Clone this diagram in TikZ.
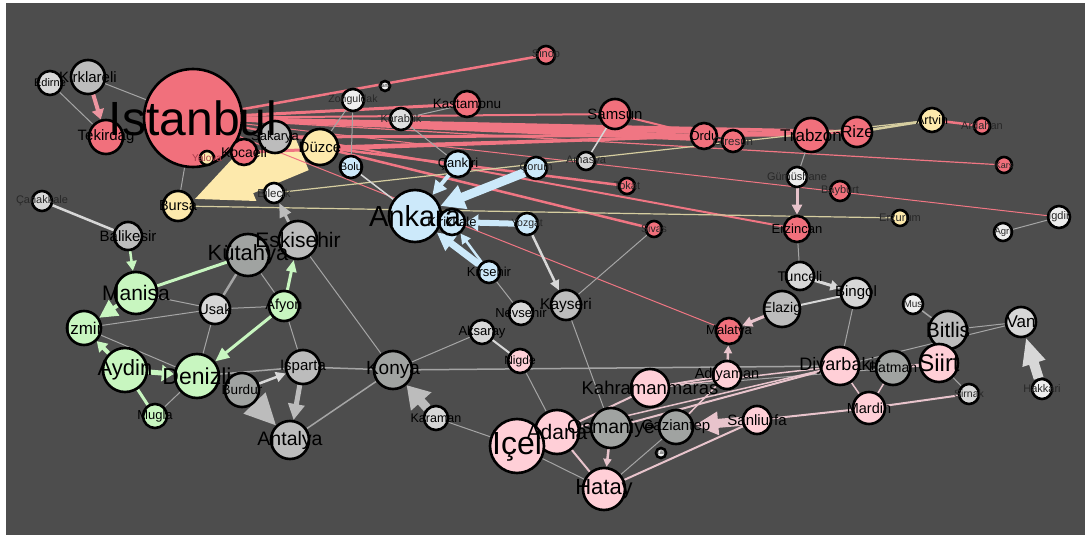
\documentclass[tikz,border=0pt]{standalone}
\usepackage{fontspec}
\setmainfont{Liberation Sans}
\usepackage{tikz}
\usetikzlibrary{arrows.meta,shapes}

\definecolor{backdrop}{RGB}{77,77,77}
\definecolor{cityred}{RGB}{241,112,124}
\definecolor{citypink}{RGB}{255,207,215}
\definecolor{cityblue}{RGB}{204,233,250}
\definecolor{citygreen}{RGB}{200,246,192}
\definecolor{cityyellow}{RGB}{253,233,172}
\definecolor{citygray}{RGB}{188,188,188}
\definecolor{citydark}{RGB}{160,163,161}
\definecolor{citylight}{RGB}{215,215,215}
\definecolor{citywhite}{RGB}{238,238,238}
\definecolor{linkred}{RGB}{240,118,131}
\definecolor{linkpink}{RGB}{232,196,204}
\definecolor{linktan}{RGB}{214,206,160}
\definecolor{linkgray}{RGB}{165,165,165}
\definecolor{linkwhite}{RGB}{215,215,215}
\definecolor{tagdim}{RGB}{40,40,40}
\definecolor{tagred}{RGB}{170,60,75}

\pgfdeclarelayer{backdrop layer}
\pgfdeclarelayer{link layer}
\pgfsetlayers{backdrop layer,link layer,main}

\tikzset{
        city/.style={circle,draw=black,line width=2.6pt,inner sep=0pt,minimum size=#1},
        red city/.style={city=#1,fill=cityred},
        pink city/.style={city=#1,fill=citypink},
        blue city/.style={city=#1,fill=cityblue},
        green city/.style={city=#1,fill=citygreen},
        yellow city/.style={city=#1,fill=cityyellow},
        gray city/.style={city=#1,fill=citygray},
        dark city/.style={city=#1,fill=citydark},
        light city/.style={city=#1,fill=citylight},
        white city/.style={city=#1,fill=citywhite},
        tag/.style={font=\fontsize{#1pt}{#1pt}\selectfont,inner sep=0pt,text=black},
        dim tag/.style={tag=#1,text=tagdim},
        redlink/.style={draw=linkred,line width=#1},
        redlink/.default=1pt,
        pinklink/.style={draw=linkpink,line width=#1},
        pinklink/.default=1pt,
        bluelink/.style={draw=cityblue,line width=#1},
        bluelink/.default=1pt,
        greenlink/.style={draw=citygreen,line width=#1},
        greenlink/.default=1pt,
        yellowlink/.style={draw=cityyellow,line width=#1},
        yellowlink/.default=1pt,
        tanlink/.style={draw=linktan,line width=#1},
        tanlink/.default=1.2pt,
        graylink/.style={draw=linkgray,line width=#1},
        graylink/.default=1pt,
        whitelink/.style={draw=linkwhite,line width=#1},
        whitelink/.default=1.5pt,
        head/.style 2 args={-{Triangle[length=#1,width=#2]}}
}

\begin{document}
\begin{tikzpicture}[x=1pt,y=-1pt]
        \begin{pgfonlayer}{backdrop layer}
                \fill[white] (0,0) rectangle (1085,535);
                \fill[backdrop] (6,3) rectangle (1085,535);
        \end{pgfonlayer}

        \node[red city=98pt] (istanbul) at (193,118) {};
        \node[light city=24pt] (edirne) at (50,83) {};
        \node[gray city=34pt] (kirklareli) at (88,77) {};
        \node[red city=34pt] (tekirdag) at (106,137) {};
        \node[yellow city=14pt] (yalova) at (207,158) {};
        \node[red city=26pt] (kocaeli) at (244,152) {};
        \node[gray city=32pt] (sakarya) at (275,137) {};
        \node[yellow city=36pt] (duzce) at (320,147) {};
        \node[blue city=22pt] (bolu) at (351,167) {};
        \node[white city=22pt] (zonguldak) at (353,100) {};
        \node[white city=10pt] (bartin) at (385,86) {};
        \node[city=22pt,fill=citywhite!94!black] (karabuk) at (401,119) {};
        \node[red city=26pt] (kastamonu) at (467,104) {};
        \node[red city=18pt] (sinop) at (546,55) {};
        \node[red city=30pt] (samsun) at (615,114) {};
        \node[light city=18pt] (amasya) at (586,161) {};
        \node[blue city=22pt] (corum) at (536,168) {};
        \node[blue city=26pt] (cankiri) at (458,164) {};
        \node[red city=16pt] (tokat) at (627,186) {};
        \node[red city=16pt] (sivas) at (654,229) {};
        \node[blue city=52pt] (ankara) at (415,216) {};
        \node[blue city=26pt] (kirikkale) at (452,222) {};
        \node[blue city=22pt] (yozgat) at (527,224) {};
        \node[blue city=22pt] (kirsehir) at (489,272) {};
        \node[red city=26pt] (ordu) at (704,136) {};
        \node[red city=22pt] (giresun) at (733,141) {};
        \node[red city=34pt] (trabzon) at (811,135) {};
        \node[red city=30pt] (rize) at (857,132) {};
        \node[yellow city=24pt] (artvin) at (932,120) {};
        \node[red city=16pt] (ardahan) at (982,126) {};
        \node[red city=16pt] (kars) at (1004,165) {};
        \node[white city=20pt] (gumushane) at (797,177) {};
        \node[red city=20pt] (bayburt) at (840,191) {};
        \node[red city=26pt] (erzincan) at (797,229) {};
        \node[yellow city=16pt] (erzurum) at (900,218) {};
        \node[white city=22pt] (igdir) at (1059,217) {};
        \node[white city=18pt] (agri) at (1003,232) {};
        \node[light city=20pt] (canakkale) at (42,201) {};
        \node[yellow city=30pt] (bursa) at (178,206) {};
        \node[white city=20pt] (bilecik) at (274,193) {};
        \node[gray city=28pt] (balikesir) at (128,236) {};
        \node[gray city=38pt] (eskisehir) at (298,240) {};
        \node[dark city=42pt] (kutahya) at (248,255) {};
        \node[green city=42pt] (manisa) at (136,293) {};
        \node[light city=30pt] (usak) at (215,309) {};
        \node[green city=30pt] (afyon) at (284,306) {};
        \node[green city=34pt] (izmir) at (84,328) {};
        \node[green city=44pt] (aydin) at (125,370) {};
        \node[green city=44pt] (denizli) at (197,376) {};
        \node[dark city=34pt] (burdur) at (242,390) {};
        \node[gray city=34pt] (isparta) at (303,367) {};
        \node[green city=24pt] (mugla) at (155,416) {};
        \node[gray city=38pt] (antalya) at (290,440) {};
        \node[dark city=38pt] (konya) at (393,370) {};
        \node[light city=24pt] (karaman) at (436,418) {};
        \node[light city=24pt] (aksaray) at (482,332) {};
        \node[light city=24pt] (nevsehir) at (521,313) {};
        \node[gray city=30pt] (kayseri) at (566,305) {};
        \node[pink city=24pt] (nigde) at (520,361) {};
        \node[pink city=44pt] (adana) at (557,432) {};
        \node[pink city=54pt] (icel) at (517,446) {};
        \node[dark city=40pt] (osmaniye) at (611,428) {};
        \node[dark city=34pt] (gaziantep) at (676,427) {};
        \node[white city=10pt] (kilis) at (661,453) {};
        \node[pink city=42pt] (hatay) at (604,489) {};
        \node[pink city=38pt] (kahramanmaras) at (650,388) {};
        \node[red city=26pt] (malatya) at (729,331) {};
        \node[pink city=28pt] (adiyaman) at (727,375) {};
        \node[gray city=36pt] (elazig) at (782,309) {};
        \node[light city=28pt] (tunceli) at (800,276) {};
        \node[light city=30pt] (bingol) at (856,293) {};
        \node[white city=20pt] (mus) at (913,304) {};
        \node[gray city=38pt] (bitlis) at (948,330) {};
        \node[light city=30pt] (van) at (1021,322) {};
        \node[pink city=38pt] (diyarbakir) at (840,366) {};
        \node[dark city=34pt] (batman) at (893,368) {};
        \node[pink city=38pt] (siirt) at (939,363) {};
        \node[light city=20pt] (sirnak) at (969,394) {};
        \node[white city=20pt] (hakkari) at (1042,389) {};
        \node[pink city=32pt] (mardin) at (869,408) {};
        \node[pink city=28pt] (sanliurfa) at (757,420) {};

        \begin{pgfonlayer}{link layer}
                \draw[yellowlink=34pt,head={58pt}{46pt}] (duzce) -- (bursa);
                \draw[graylink=3pt,draw=citygray,head={31pt}{30pt}] (burdur) -- (antalya);
                \draw[graylink=9pt,draw=citygray,head={22pt}{26pt}] (karaman) -- (konya);
                \draw[pinklink=9pt,head={24pt}{22pt}] (sanliurfa) -- (gaziantep);
                \draw[whitelink=10pt,head={27pt}{22pt}] (hakkari) -- (van);

                \draw[redlink=2.5pt] (istanbul) -- (sinop);
                \draw[redlink=3pt] (istanbul) -- (kastamonu);
                \draw[redlink=2pt] (istanbul) -- (samsun);
                \draw[redlink=3.5pt] (istanbul) -- (ordu);
                \draw[redlink=3pt] (istanbul) -- (giresun);
                \draw[redlink=4pt] (istanbul) -- (trabzon);
                \draw[redlink=3.5pt] (istanbul) -- (rize);
                \draw[redlink=3pt] (sakarya) -- (trabzon);
                \draw[redlink=3pt] (kocaeli) -- (ordu);
                \draw[redlink=2.5pt] (duzce) -- (rize);
                \draw[redlink=2.5pt] (duzce) -- (tokat);
                \draw[redlink=2.5pt] (duzce) -- (sivas);
                \draw[redlink=2pt] (istanbul) -- (erzincan);
                \draw[redlink=1.2pt] (istanbul) -- (kars);
                \draw[redlink] (istanbul) -- (igdir);
                \draw[redlink] (istanbul) -- (malatya);
                \draw[redlink=2pt] (samsun) -- (ordu);
                \draw[redlink=2.5pt] (artvin) -- (ardahan);
                \draw[tanlink=2.5pt] (rize) -- (artvin);
                \draw[pinklink=4pt,draw=linkred!60!linkpink,head={10pt}{12pt}] (kirklareli) -- (tekirdag);

                \draw[tanlink] (bursa) -- (erzurum);
                \draw[tanlink] (bilecik) -- (artvin);

                \draw[graylink] (edirne) -- (tekirdag);
                \draw[graylink] (kirklareli) -- (istanbul);
                \draw[graylink] (istanbul) -- (bursa);
                \draw[graylink] (zonguldak) -- (duzce);
                \draw[graylink] (zonguldak) -- (bolu);
                \draw[graylink] (karabuk) -- (kastamonu);
                \draw[graylink] (karabuk) -- (cankiri);
                \draw[graylink] (kirsehir) -- (nevsehir);
                \draw[graylink] (aksaray) -- (konya);
                \draw[graylink] (kayseri) -- (osmaniye);
                \draw[graylink] (kayseri) -- (sivas);
                \draw[graylink] (nigde) -- (adana);
                \draw[graylink] (karaman) -- (icel);
                \draw[graylink=1.5pt] (konya) -- (antalya);
                \draw[graylink] (eskisehir) -- (konya);
                \draw[graylink=1.5pt] (isparta) -- (konya);
                \draw[graylink=1.5pt] (konya) -- (diyarbakir);
                \draw[graylink=1.5pt] (denizli) -- (isparta);
                \draw[graylink] (afyon) -- (isparta);
                \draw[graylink] (kutahya) -- (afyon);
                \draw[graylink] (manisa) -- (usak);
                \draw[graylink] (izmir) -- (usak);
                \draw[graylink] (usak) -- (afyon);
                \draw[graylink] (usak) -- (denizli);
                \draw[graylink] (izmir) -- (denizli);
                \draw[graylink] (mugla) -- (denizli);
                \draw[graylink=2.5pt] (kutahya) -- (usak);
                \draw[graylink] (icel) -- (hatay);
                \draw[graylink] (gaziantep) -- (hatay);
                \draw[graylink] (trabzon) -- (gumushane);
                \draw[graylink] (tunceli) -- (erzincan);
                \draw[graylink] (diyarbakir) -- (bingol);
                \draw[graylink=1.5pt] (mus) -- (bitlis);
                \draw[graylink] (bitlis) -- (van);
                \draw[graylink] (diyarbakir) -- (van);
                \draw[graylink] (siirt) -- (sirnak);
                \draw[graylink] (agri) -- (igdir);
                \draw[graylink] (kahramanmaras) -- (batman);

                \draw[whitelink=2.5pt] (canakkale) -- (balikesir);
                \draw[whitelink] (bolu) -- (ankara);
                \draw[whitelink] (samsun) -- (amasya);
                \draw[whitelink=2pt] (aksaray) -- (nigde);
                \draw[whitelink=2pt] (elazig) -- (bingol);
                \draw[whitelink=2.5pt,head={10pt}{9pt}] (yozgat) -- (kayseri);
                \draw[whitelink=3pt,head={10pt}{10pt}] (tunceli) -- (bingol);
                \draw[whitelink=2.5pt,head={10pt}{10pt}] (burdur) -- (isparta);
                \draw[graylink=3pt,draw=citygray,head={14pt}{12pt}] (eskisehir) -- (bilecik);
                \draw[graylink=5pt,draw=citygray,head={16pt}{16pt}] (isparta) -- (antalya);

                \draw[pinklink=2pt] (adana) -- (hatay);
                \draw[pinklink=2.5pt,head={8pt}{8pt}] (osmaniye) -- (hatay);
                \draw[pinklink=2pt] (hatay) -- (sanliurfa);
                \draw[pinklink=2pt] (adana) -- (kahramanmaras);
                \draw[pinklink=2pt] (kahramanmaras) -- (adiyaman);
                \draw[pinklink=2pt] (osmaniye) -- (diyarbakir);
                \draw[pinklink=1.5pt] (adana) -- (diyarbakir);
                \draw[pinklink=1.5pt] (kahramanmaras) -- (diyarbakir);
                \draw[pinklink=1.5pt] (gaziantep) -- (adiyaman);
                \draw[pinklink=2pt] (sanliurfa) -- (mardin);
                \draw[pinklink=2pt] (mardin) -- (sirnak);
                \draw[pinklink=1.5pt] (diyarbakir) -- (mardin);
                \draw[pinklink=1.5pt] (batman) -- (mardin);
                \draw[pinklink=3pt] (batman) -- (siirt);
                \draw[pinklink=3pt,head={10pt}{10pt}] (elazig) -- (malatya);
                \draw[pinklink=2.5pt,head={8pt}{8pt}] (adiyaman) -- (malatya);
                \draw[pinklink=3pt,head={10pt}{10pt}] (gumushane) -- (erzincan);

                \draw[bluelink=9pt,head={24pt}{24pt}] (corum) -- (ankara);
                \draw[bluelink=7pt,head={18pt}{18pt}] (kirsehir) -- (ankara);
                \draw[bluelink=2.5pt,head={10pt}{10pt}] (kirsehir) -- (kirikkale);
                \draw[bluelink=6pt,head={12pt}{16pt}] (yozgat) -- (kirikkale);
                \draw[bluelink=4pt,head={14pt}{14pt}] (cankiri) -- (ankara);

                \draw[greenlink=2.5pt,head={10pt}{10pt}] (balikesir) -- (manisa);
                \draw[greenlink=4pt,head={18pt}{18pt}] (manisa) -- (izmir);
                \draw[greenlink=4pt,head={10pt}{12pt}] (aydin) -- (izmir);
                \draw[greenlink=5pt,head={12pt}{16pt}] (aydin) -- (denizli);
                \draw[greenlink=3pt,head={14pt}{12pt}] (afyon) -- (denizli);
                \draw[greenlink=3pt,head={12pt}{10pt}] (afyon) -- (eskisehir);
                \draw[greenlink=3pt] (manisa) -- (kutahya);
                \draw[greenlink=3pt] (aydin) -- (mugla);
        \end{pgfonlayer}

        \node[tag=48] (istanbul-t) at (istanbul) {Istanbul};
        \node[tag=11] (edirne-t) at (edirne) {Edirne};
        \node[tag=15] (kirklareli-t) at (kirklareli) {Kirklareli};
        \node[tag=15] (tekirdag-t) at (tekirdag) {Tekirdag};
        \node[tag=10,text=tagred] (yalova-t) at (yalova) {Yalova};
        \node[tag=14] (kocaeli-t) at (kocaeli) {Kocaeli};
        \node[tag=13] (sakarya-t) at (sakarya) {Sakarya};
        \node[tag=15] (duzce-t) at (duzce) {Düzce};
        \node[tag=11] (bolu-t) at (bolu) {Bolu};
        \node[dim tag=10.5] (zonguldak-t) at (zonguldak) {Zonguldak};
        \node[dim tag=5] (bartin-t) at (bartin) {Bartin};
        \node[dim tag=11] (karabuk-t) at (karabuk) {Karabük};
        \node[tag=13.5] (kastamonu-t) at (kastamonu) {Kastamonu};
        \node[dim tag=11] (sinop-t) at (sinop) {Sinop};
        \node[tag=15] (samsun-t) at (samsun) {Samsun};
        \node[dim tag=11] (amasya-t) at (amasya) {Amasya};
        \node[dim tag=11] (corum-t) at (corum) {Çorum};
        \node[tag=13] (cankiri-t) at (cankiri) {Çankiri};
        \node[dim tag=11] (tokat-t) at (tokat) {Tokat};
        \node[dim tag=10.5] (sivas-t) at (sivas) {Sivas};
        \node[tag=29] (ankara-t) at (ankara) {Ankara};
        \node[tag=13] (kirikkale-t) at (kirikkale) {Kirikkale};
        \node[dim tag=10.5] (yozgat-t) at (yozgat) {Yozgat};
        \node[tag=13] (kirsehir-t) at (kirsehir) {Kirsehir};
        \node[tag=13] (ordu-t) at (ordu) {Ordu};
        \node[dim tag=11.5] (giresun-t) at (giresun) {Giresun};
        \node[tag=17] (trabzon-t) at (trabzon) {Trabzon};
        \node[tag=16.5] (rize-t) at (rize) {Rize};
        \node[tag=12.5] (artvin-t) at (artvin) {Artvin};
        \node[dim tag=11] (ardahan-t) at (ardahan) {Ardahan};
        \node[dim tag=9] (kars-t) at (kars) {Kars};
        \node[dim tag=11] (gumushane-t) at (gumushane) {Gümüshane};
        \node[dim tag=11] (bayburt-t) at (bayburt) {Bayburt};
        \node[tag=13] (erzincan-t) at (erzincan) {Erzincan};
        \node[dim tag=11] (erzurum-t) at (erzurum) {Erzurum};
        \node[dim tag=11] (igdir-t) at (igdir) {Igdir};
        \node[dim tag=9.5] (agri-t) at (agri) {Agri};
        \node[dim tag=11] (canakkale-t) at (canakkale) {Çanakkale};
        \node[tag=14.5] (bursa-t) at (bursa) {Bursa};
        \node[dim tag=11.5] (bilecik-t) at (bilecik) {Bilecik};
        \node[tag=15] (balikesir-t) at (balikesir) {Balikesir};
        \node[tag=21] (eskisehir-t) at (eskisehir) {Eskisehir};
        \node[tag=22] (kutahya-t) at (kutahya) {Kütahya};
        \node[tag=21] (manisa-t) at (manisa) {Manisa};
        \node[tag=14.5] (usak-t) at (usak) {Usak};
        \node[tag=14.5] (afyon-t) at (afyon) {Afyon};
        \node[tag=17] (izmir-t) at (izmir) {Izmir};
        \node[tag=22] (aydin-t) at (aydin) {Aydin};
        \node[tag=23] (denizli-t) at (denizli) {Denizli};
        \node[tag=13.5] (burdur-t) at (burdur) {Burdur};
        \node[tag=15] (isparta-t) at (isparta) {Isparta};
        \node[tag=13] (mugla-t) at (mugla) {Mugla};
        \node[tag=19.5] (antalya-t) at (antalya) {Antalya};
        \node[tag=19] (konya-t) at (konya) {Konya};
        \node[tag=12.5] (karaman-t) at (karaman) {Karaman};
        \node[tag=13] (aksaray-t) at (aksaray) {Aksaray};
        \node[tag=13] (nevsehir-t) at (nevsehir) {Nevsehir};
        \node[tag=15.5] (kayseri-t) at (kayseri) {Kayseri};
        \node[tag=12] (nigde-t) at (nigde) {Nigde};
        \node[tag=21] (adana-t) at (adana) {Adana};
        \node[tag=32] (icel-t) at (icel) {Içel};
        \node[tag=19.5] (osmaniye-t) at (osmaniye) {Osmaniye};
        \node[tag=15] (gaziantep-t) at (gaziantep) {Gaziantep};
        \node[dim tag=5] (kilis-t) at (kilis) {Kilis};
        \node[tag=22] (hatay-t) at (hatay) {Hatay};
        \node[tag=18.5] (kahramanmaras-t) at (kahramanmaras) {Kahramanmaras};
        \node[tag=13] (malatya-t) at (malatya) {Malatya};
        \node[tag=14.5] (adiyaman-t) at (adiyaman) {Adiyaman};
        \node[tag=14] (elazig-t) at (elazig) {Elazig};
        \node[tag=14] (tunceli-t) at (tunceli) {Tunceli};
        \node[tag=15] (bingol-t) at (bingol) {Bingol};
        \node[dim tag=10] (mus-t) at (mus) {Mus};
        \node[tag=21] (bitlis-t) at (bitlis) {Bitlis};
        \node[tag=17] (van-t) at (van) {Van};
        \node[tag=18] (diyarbakir-t) at (diyarbakir) {Diyarbakir};
        \node[tag=14] (batman-t) at (batman) {Batman};
        \node[tag=24] (siirt-t) at (siirt) {Siirt};
        \node[dim tag=10.5] (sirnak-t) at (sirnak) {Sirnak};
        \node[dim tag=11] (hakkari-t) at (hakkari) {Hakkari};
        \node[tag=14.5] (mardin-t) at (mardin) {Mardin};
        \node[tag=15] (sanliurfa-t) at (sanliurfa) {Sanliurfa};
\end{tikzpicture}
\end{document}
